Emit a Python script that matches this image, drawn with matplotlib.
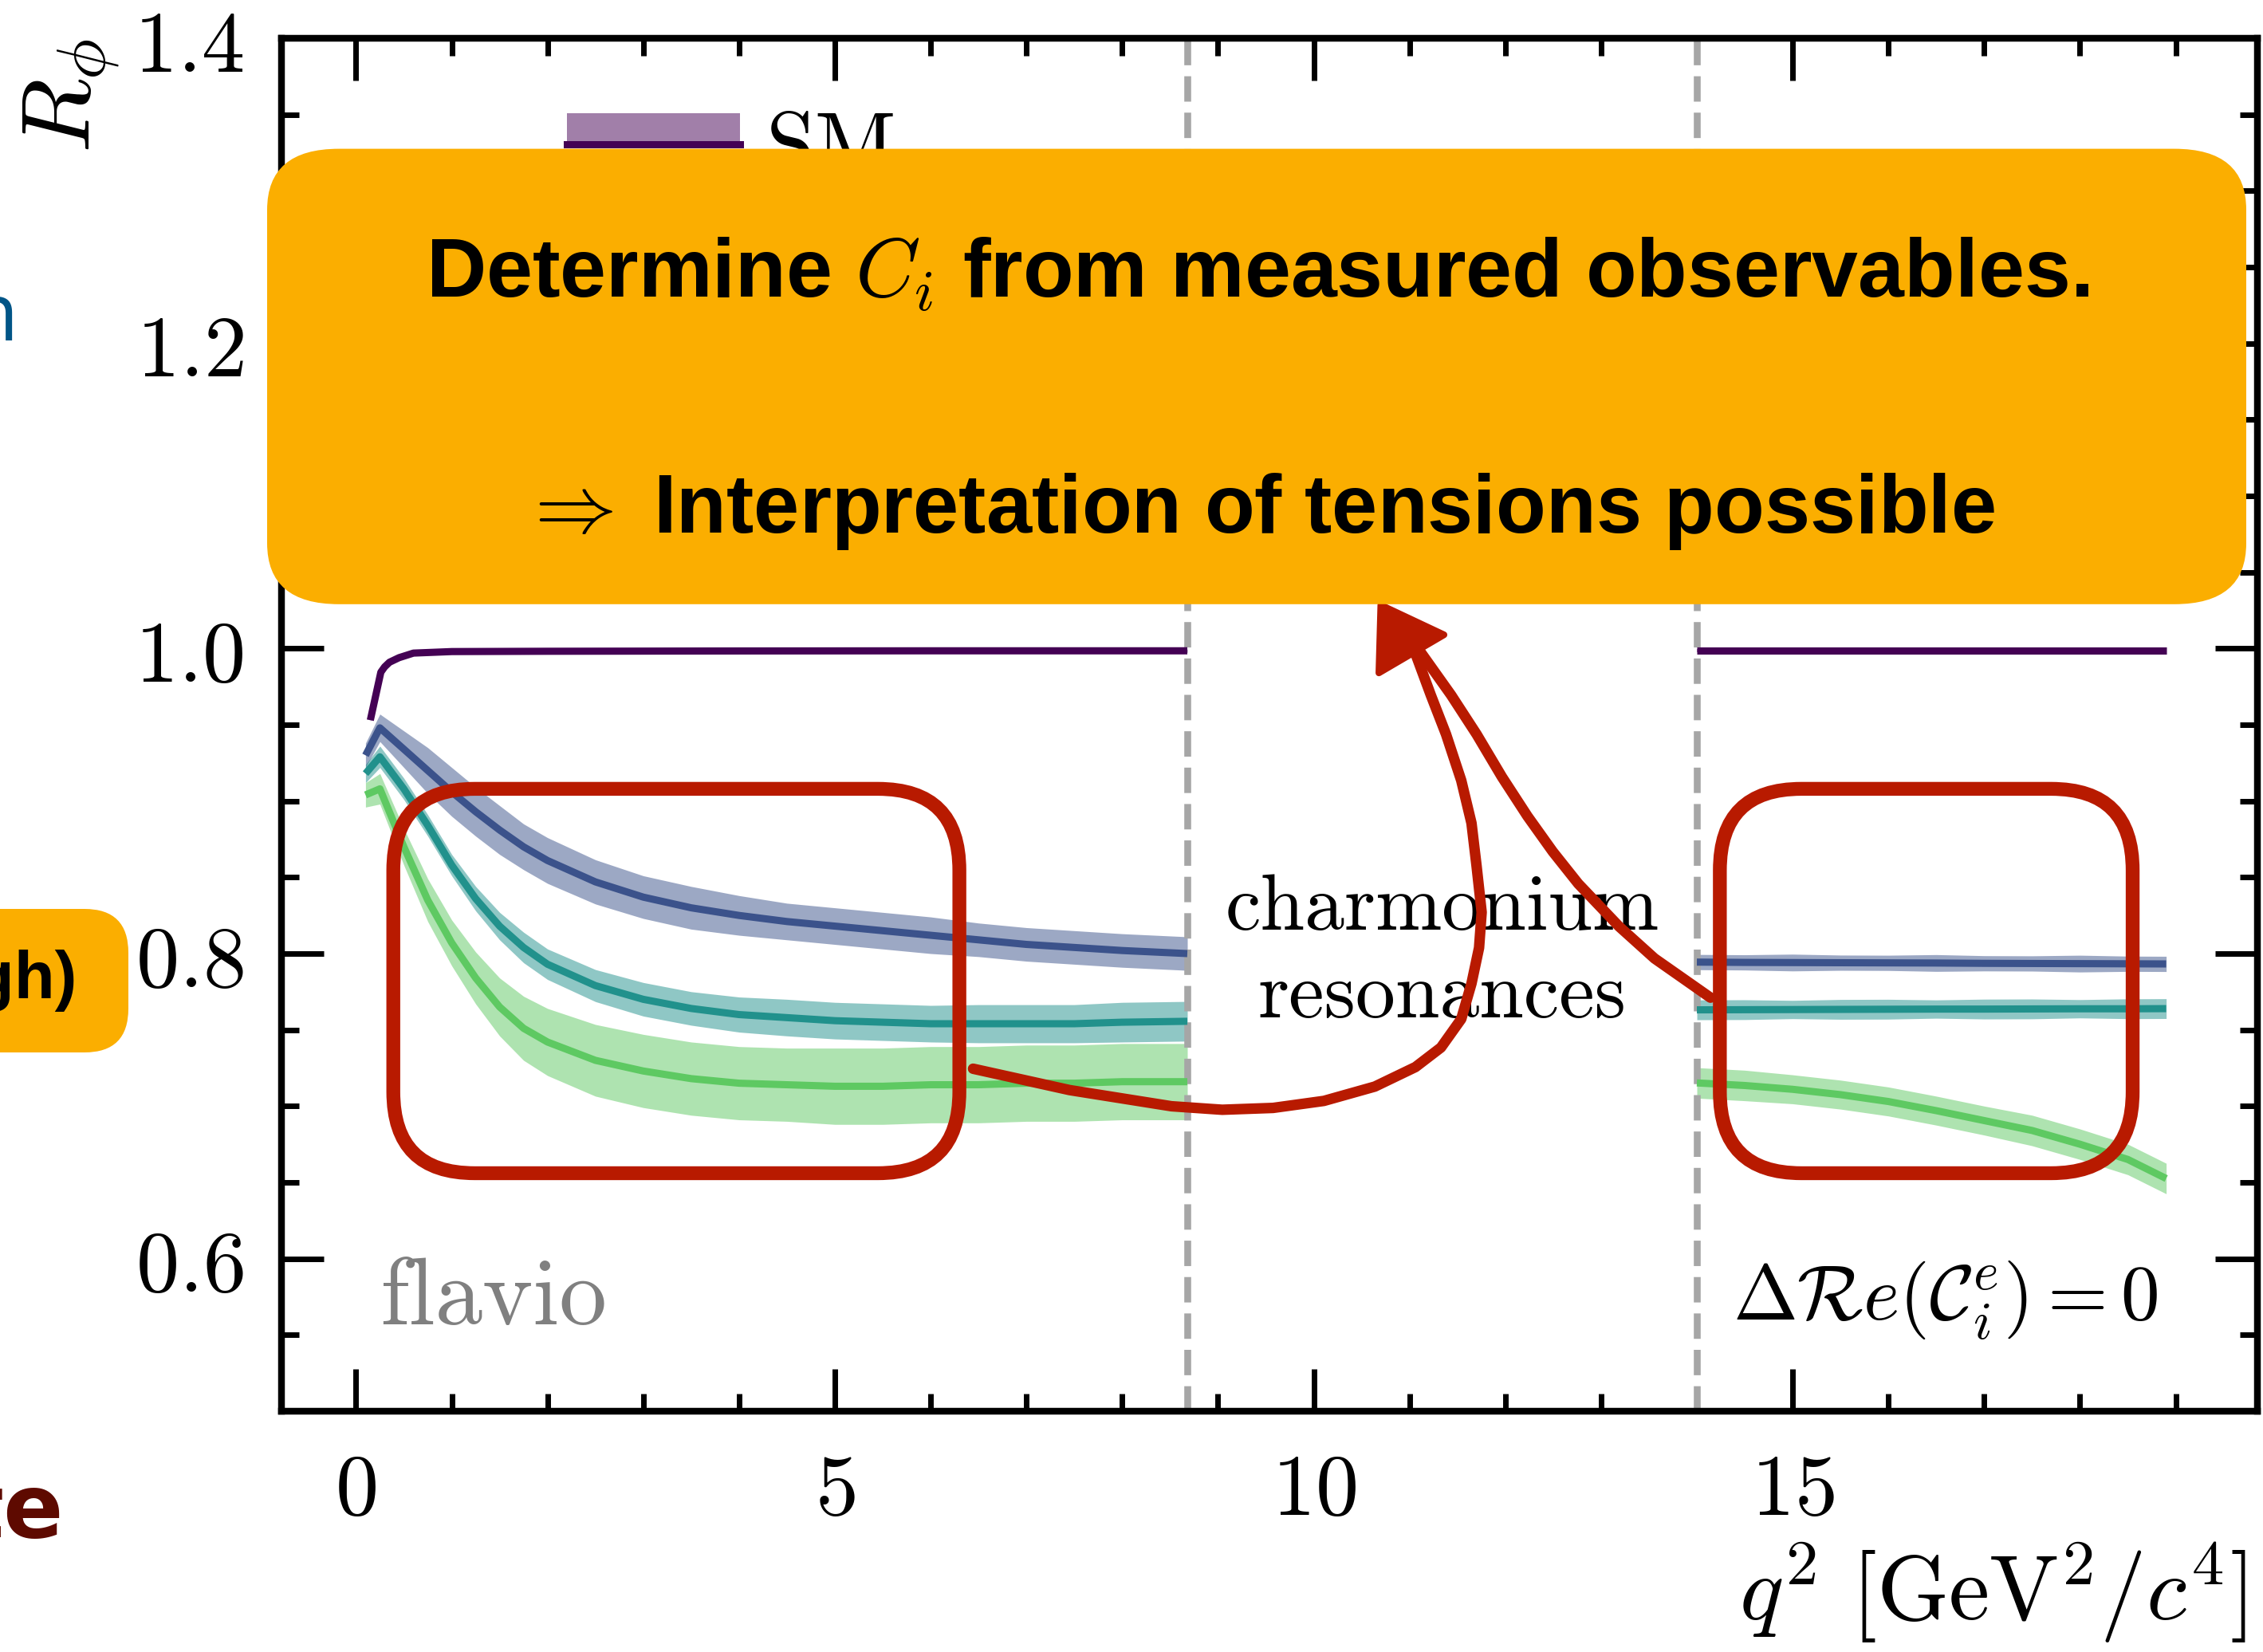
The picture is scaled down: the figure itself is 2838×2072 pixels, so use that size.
import numpy as np
import matplotlib
matplotlib.use("Agg")
import matplotlib.pyplot as plt
from matplotlib.patches import FancyBboxPatch, Polygon, Rectangle
from matplotlib.lines import Line2D
from matplotlib.legend_handler import HandlerBase
from matplotlib.ticker import MultipleLocator, FuncFormatter

plt.rcParams["mathtext.fontset"] = "cm"
plt.rcParams["font.family"] = ["DejaVu Sans"]

# ---------------- data ----------------
q2_low = [0.1, 0.25, 0.5, 0.75, 1.0, 1.25, 1.5, 1.75, 2.0, 2.5, 3.0, 3.5,
          4.0, 4.5, 5.0, 5.5, 6.0, 6.5, 7.0, 7.5, 8.0, 8.68]
blue_low = [0.930, 0.948, 0.934, 0.920, 0.906, 0.893, 0.881, 0.870, 0.861, 0.847, 0.837, 0.830,
            0.825, 0.821, 0.818, 0.815, 0.812, 0.809, 0.806, 0.804, 0.802, 0.800]
blue_err_low = [0.008, 0.009, 0.012, 0.015, 0.016, 0.016, 0.016, 0.015, 0.015, 0.0145, 0.014, 0.014,
                0.013, 0.012, 0.012, 0.012, 0.012, 0.011, 0.011, 0.011, 0.011, 0.011]
teal_low = [0.918, 0.929, 0.908, 0.884, 0.858, 0.836, 0.818, 0.804, 0.793, 0.779, 0.770, 0.764,
            0.760, 0.758, 0.756, 0.755, 0.754, 0.754, 0.754, 0.754, 0.755, 0.7556]
teal_err_low = [0.006, 0.007, 0.007, 0.007, 0.007, 0.008, 0.009, 0.010, 0.010, 0.0105, 0.011, 0.011,
                0.0115, 0.012, 0.012, 0.012, 0.012, 0.0125, 0.0125, 0.0125, 0.013, 0.013]
green_low = [0.904, 0.908, 0.870, 0.835, 0.807, 0.784, 0.765, 0.751, 0.742, 0.730, 0.723, 0.718,
             0.715, 0.714, 0.713, 0.713, 0.714, 0.714, 0.715, 0.715, 0.716, 0.716]
green_err_low = [0.008, 0.010, 0.012, 0.014, 0.015, 0.017, 0.019, 0.021, 0.022, 0.0235, 0.024, 0.024,
                 0.024, 0.024, 0.025, 0.025, 0.025, 0.025, 0.025, 0.025, 0.025, 0.025]

q2_sm_low = [0.15, 0.26, 0.30, 0.35, 0.45, 0.6, 0.8, 1.0, 2.0, 4.0, 6.0, 8.68]
sm_low = [0.953, 0.9845, 0.988, 0.991, 0.994, 0.997, 0.9975, 0.998, 0.9982, 0.9984, 0.9985, 0.9985]
sm_err_low = [0.001, 0.001, 0.001, 0.001, 0.001, 0.001, 0.001, 0.001, 0.001, 0.001, 0.001, 0.001]

q2_high = [14.0, 14.5, 15.0, 15.5, 16.0, 16.5, 17.0, 17.5, 18.0, 18.5, 18.9]
sm_high = [0.9985, 0.9985, 0.9985, 0.9985, 0.9985, 0.9985, 0.9985, 0.9985, 0.9985, 0.9985, 0.9985]
sm_err_high = [0.001, 0.001, 0.001, 0.001, 0.001, 0.001, 0.001, 0.001, 0.001, 0.001, 0.001]
blue_high = [0.7944, 0.7942, 0.7941, 0.7940, 0.7939, 0.7938, 0.7936, 0.7935, 0.7934, 0.7933, 0.7932]
blue_err_high = [0.005, 0.005, 0.0055, 0.005, 0.005, 0.0055, 0.005, 0.005, 0.0055, 0.005, 0.005]
teal_high = [0.7631, 0.7632, 0.7633, 0.7634, 0.7635, 0.7636, 0.7636, 0.7637, 0.7638, 0.7638, 0.7639]
teal_err_high = [0.0065, 0.0065, 0.006, 0.0065, 0.0065, 0.006, 0.0065, 0.0065, 0.006, 0.0065, 0.0065]
green_high = [0.7152, 0.7135, 0.7110, 0.7075, 0.7030, 0.6970, 0.6905, 0.6840, 0.6750, 0.6650, 0.6525]
green_err_high = [0.010, 0.010, 0.0095, 0.0095, 0.0095, 0.0095, 0.0095, 0.010, 0.010, 0.010, 0.010]

veto_edges = [8.68, 14.0]

# hand-drawn annotation overlay (data coordinates)
box_left = [0.39, 0.656, 6.30, 0.908]      # x0, y0, x1, y1
box_right = [14.24, 0.656, 18.55, 0.908]
arrow_lower_x = [6.443, 7.451, 8.514, 9.045, 9.575, 10.106, 10.638, 11.062, 11.328, 11.540,
                 11.647, 11.726, 11.753, 11.700, 11.647, 11.540, 11.381, 11.222, 11.06]
arrow_lower_y = [0.7245, 0.7105, 0.6999, 0.6976, 0.6988, 0.7034, 0.7128, 0.7256, 0.7384, 0.7571,
                 0.7804, 0.8038, 0.8271, 0.8574, 0.8855, 0.9135, 0.9438, 0.9695, 0.997]
arrow_upper_x = [14.142, 13.824, 13.558, 13.187, 12.762, 12.496, 12.231, 11.965, 11.700, 11.434, 11.10]
arrow_upper_y = [0.7711, 0.7851, 0.7968, 0.8178, 0.8458, 0.8668, 0.8901, 0.9158, 0.9438, 0.9695, 0.999]
arrowhead_x = [10.70, 11.36, 10.68]
arrowhead_y = [1.0285, 1.0090, 0.9840]

colors = {"SM": "#440154", "blue": "#3b528b", "teal": "#21918c", "green": "#5ec962"}
RED = "#b81a00"
ORANGE = "#fbae00"

W, H = 2838, 2072
fig = plt.figure(figsize=(W / 100, H / 100), dpi=100)
ax = fig.add_axes([352.7 / W, 1 - 1769.9 / H, (2830.7 - 352.7) / W, (1769.9 - 48.2) / H])

LW = 6.5


def band(x, y, e, c):
    y = np.asarray(y)
    e = np.asarray(e)
    ax.fill_between(x, y - e, y + e, color=c, alpha=0.5, lw=0, zorder=2)
    return ax.plot(x, y, color=c, lw=LW, zorder=3, solid_capstyle="butt",
                   solid_joinstyle="round")[0]


sm_line = band(q2_sm_low, sm_low, sm_err_low, colors["SM"])
band(q2_high, sm_high, sm_err_high, colors["SM"])
band(q2_low, blue_low, blue_err_low, colors["blue"])
band(q2_high, blue_high, blue_err_high, colors["blue"])
band(q2_low, teal_low, teal_err_low, colors["teal"])
band(q2_high, teal_high, teal_err_high, colors["teal"])
band(q2_low, green_low, green_err_low, colors["green"])
band(q2_high, green_high, green_err_high, colors["green"])

for xv in veto_edges:
    ax.axvline(xv, color="#a6a6a6", lw=6.2, ls="--", zorder=2.5)

ax.set_xlim(-0.78, 19.85)
ax.set_ylim(0.5, 1.4)
ax.xaxis.set_major_locator(MultipleLocator(5))
ax.xaxis.set_minor_locator(MultipleLocator(1))
ax.yaxis.set_major_locator(MultipleLocator(0.2))
ax.yaxis.set_minor_locator(MultipleLocator(0.05))
ax.xaxis.set_major_formatter(FuncFormatter(lambda v, p: f"${v:.0f}$"))
ax.yaxis.set_major_formatter(FuncFormatter(lambda v, p: f"${v:.1f}$"))
ax.tick_params(which="both", direction="in", top=True, right=True, width=5)
ax.tick_params(which="major", length=38, labelsize=78, pad=34)
ax.tick_params(which="minor", length=16)
for s in ax.spines.values():
    s.set_linewidth(6.1)

ax.set_xlabel(r"$q^2\ [\mathrm{GeV}^2/c^4]$", loc="right", fontsize=83)
ax.xaxis.set_label_coords(0.9945, -0.094)
ax.set_ylabel(r"$R_\phi$", loc="top", fontsize=88)
ax.yaxis.set_label_coords(-0.0806, 1.0)

ax.text(11.34, 0.8155, "charmonium", ha="center", va="baseline", fontsize=72,
        family="cmr10", zorder=4)
ax.text(11.34, 0.7583, "resonances", ha="center", va="baseline", fontsize=72,
        family="cmr10", zorder=4)
ax.text(0.05, 0.05, "flavio", transform=ax.transAxes, ha="left", va="bottom",
        fontsize=86, family="cmr10", color="#808080", zorder=4)
ax.text(0.95, 0.05, r"$\Delta\mathcal{R}e(\mathcal{C}_i^e) = 0$", transform=ax.transAxes,
        ha="right", va="bottom", fontsize=70, zorder=4)


class BandLineHandler(HandlerBase):
    def create_artists(self, legend, orig_handle, xdescent, ydescent, width, height,
                       fontsize, trans):
        c = orig_handle.get_color()
        x0, y0 = -xdescent, -ydescent
        patch = Rectangle((x0, y0 + 0.52 * height), width, 0.46 * height, facecolor=c,
                          alpha=0.5, edgecolor="none", transform=trans)
        line = Line2D([x0, x0 + width], [y0 + 0.47 * height] * 2, color=c, lw=LW,
                      transform=trans)
        return [patch, line]


ax.legend(handles=[sm_line], labels=["SM"], handler_map={sm_line: BandLineHandler()},
          loc="upper left", bbox_to_anchor=(711 / W, 1 - 140 / H), bbox_transform=fig.transFigure,
          frameon=False, borderpad=0, borderaxespad=0, handlelength=1.95, handletextpad=0.3,
          prop={"family": "cmr10", "size": 80})

# ---- hand-drawn red annotations ----
def rough_box(b):
    x0, y0, x1, y1 = b
    p = FancyBboxPatch((x0, y0), x1 - x0, y1 - y0,
                       boxstyle="round,pad=0,rounding_size=0.85", mutation_aspect=0.0628,
                       fill=False, ec=RED, lw=12.5, zorder=6, clip_on=False)
    ax.add_patch(p)


rough_box(box_left)
rough_box(box_right)
for xs, ys in [(arrow_lower_x, arrow_lower_y), (arrow_upper_x, arrow_upper_y)]:
    ax.plot(xs, ys, color=RED, lw=9.5, solid_capstyle="round", solid_joinstyle="round",
            zorder=6, clip_on=False)
head = Polygon(np.column_stack([arrowhead_x, arrowhead_y]), closed=True, fc=RED, ec=RED,
               lw=6, joinstyle="round", zorder=6, clip_on=False)
ax.add_patch(head)

# ---- slide overlay: orange box ----
bx0, by0, bx1, by1 = 335, 186.6, 2817, 757.8
obox = FancyBboxPatch((bx0 / W, 1 - by1 / H), (bx1 - bx0) / W, (by1 - by0) / H,
                      boxstyle=f"round,pad=0,rounding_size={90 / W}", mutation_aspect=W / H * 0.85,
                      transform=fig.transFigure, fc=ORANGE, ec="none", zorder=10)
fig.add_artist(obox)
fig.text(1577 / W, 1 - 373 / H, r"Determine $C_i$ from measured observables.",
         ha="center", va="baseline", fontsize=75, fontweight="bold",
         family=["Liberation Sans", "DejaVu Sans"], zorder=11)
fig.text(1577 / W, 1 - 668 / H, r"$\Rightarrow$ Interpretation of tensions possible",
         ha="center", va="baseline", fontsize=74, fontweight="bold",
         family=["Liberation Sans", "DejaVu Sans"], zorder=11)

# ---- other slide fragments at the left edge ----
sbox = FancyBboxPatch((-80 / W, 1 - 1320 / H), 241 / W, 180 / H,
                      boxstyle=f"round,pad=0,rounding_size={55 / W}", mutation_aspect=W / H,
                      transform=fig.transFigure, fc=ORANGE, ec="none", zorder=10)
fig.add_artist(sbox)
fig.text(97 / W, 1 - 1252 / H, "(high)", ha="right", va="baseline", fontsize=60,
         fontweight="bold", family=["Liberation Sans", "DejaVu Sans"], zorder=11)
fig.text(23 / W, 1 - 427 / H, "n", ha="right", va="baseline", fontsize=72,
         family=["Open Sans", "DejaVu Sans"], color="#005587", zorder=11)
fig.text(80 / W, 1 - 1928 / H, "te", ha="right", va="baseline", fontsize=80,
         fontweight="bold", family="DejaVu Sans", color="#5e0a00", zorder=11)

fig.savefig("out.png", dpi=100)
